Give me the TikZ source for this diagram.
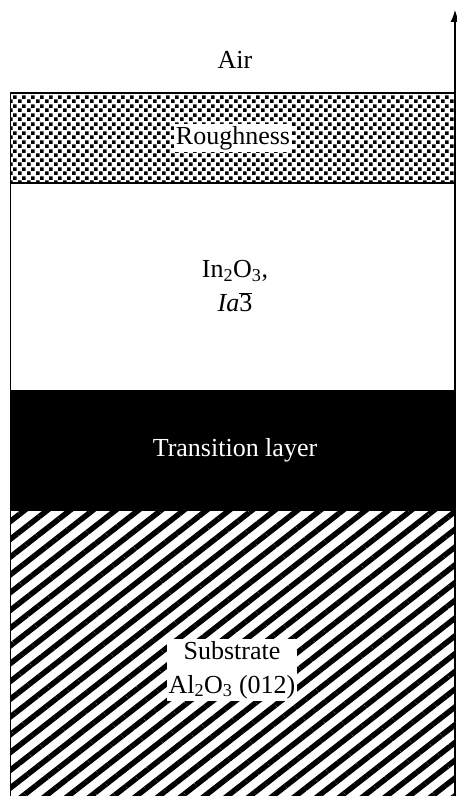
\documentclass[tikz,border=0pt]{standalone}
\usepackage{fontspec}
\setmainfont{Liberation Serif}
\usetikzlibrary{arrows.meta, patterns.meta}

\pgfdeclarepattern{
  name=roughdots,
  type=uncolored,
  bottom left={\pgfpoint{0pt}{0pt}},
  top right={\pgfpoint{9pt}{9pt}},
  tile size={\pgfpoint{9pt}{9pt}},
  code={
    \pgfpathrectangle{\pgfpointorigin}{\pgfpoint{4pt}{4pt}}
    \pgfpathrectangle{\pgfpoint{4.5pt}{4.5pt}}{\pgfpoint{4pt}{4pt}}
    \pgfusepath{fill}
  }
}

\begin{document}
\begin{tikzpicture}[
      x=1pt, y=1pt,
      font=\fontsize{26}{34}\selectfont,
      rotulo/.style={align=center, inner sep=2pt},
      caixa/.style={rotulo, fill=white},
      borda/.style={line width=1.2pt},
      seta/.style={-{Latex[length=12pt, width=9pt]}, line width=1.2pt}
    ]
    \useasboundingbox (0,0) rectangle (456,796);
    \fill[pattern=roughdots] (10.5,613) rectangle (454.5,703);
    \fill[black] (10.5,285) rectangle (454.5,406);
    \fill[pattern={Lines[angle=38, distance=14pt, line width=5.5pt]}] (10.5,0) rectangle (454.5,285);
    \draw[borda] (10.5,0) -- (10.5,703) -- (454.5,703);
    \draw[borda] (10.5,613) -- (454.5,613);
    \coordinate (base) at (455,0);
    \coordinate (topo) at (455,786);
    \draw[seta] (base) -- (topo);
    \node[rotulo] (ar) at (235,736) {Air};
    \node[caixa] (rugosidade) at (233,658) {Roughness};
    \node[rotulo] (filme) at (235,510) {In\textsubscript{2}O\textsubscript{3},\\
      \textit{Ia}$\overline{\mbox{3}}$};
    \node[rotulo, text=white] (transicao) at (235,346) {Transition layer};
    \node[caixa] (substrato) at (232,126) {Substrate\\
      Al\textsubscript{2}O\textsubscript{3} (012)};
  \end{tikzpicture}
\end{document}
